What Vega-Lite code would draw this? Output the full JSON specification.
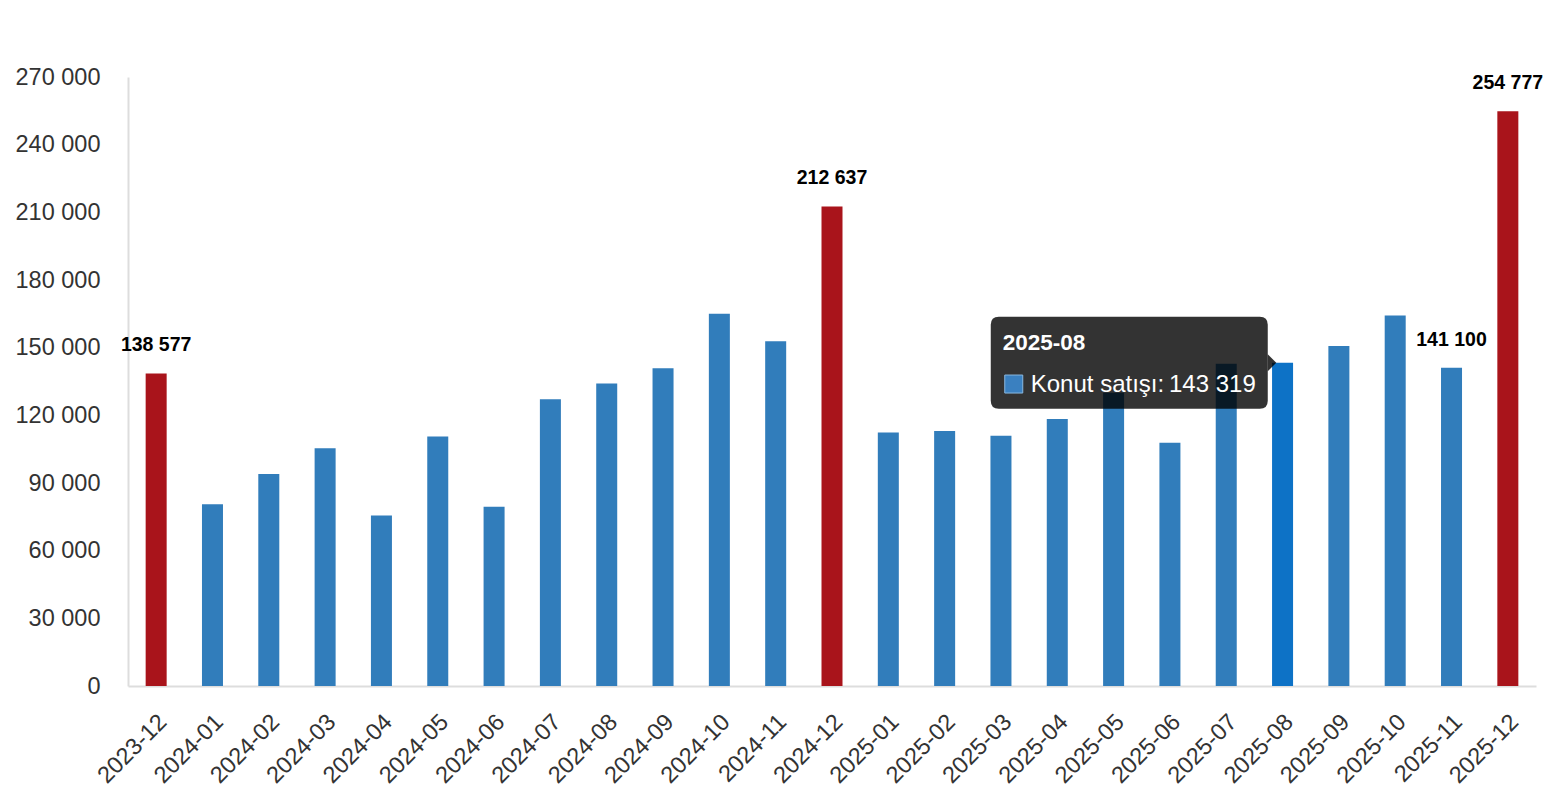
{
  "$schema": "https://vega.github.io/schema/vega-lite/v6.json",
  "width": 1408,
  "height": 609,
  "autosize": {"type": "none"},
  "padding": {"left": 128, "top": 77, "right": 20, "bottom": 114},
  "background": "white",
  "config": {
    "view": {"stroke": null},
    "font": "Liberation Sans",
    "locale": {"number": {"decimal": ",", "thousands": " ", "grouping": [3], "currency": ["", " ₺"]}}
  },
  "data": {
    "values": [
      {"month": "2023-12", "value": 138577},
      {"month": "2024-01", "value": 80585},
      {"month": "2024-02", "value": 94045},
      {"month": "2024-03", "value": 105394},
      {"month": "2024-04", "value": 75569},
      {"month": "2024-05", "value": 110588},
      {"month": "2024-06", "value": 79500},
      {"month": "2024-07", "value": 127179},
      {"month": "2024-08", "value": 134086},
      {"month": "2024-09", "value": 140828},
      {"month": "2024-10", "value": 165038},
      {"month": "2024-11", "value": 152830},
      {"month": "2024-12", "value": 212637},
      {"month": "2025-01", "value": 112379},
      {"month": "2025-02", "value": 113056},
      {"month": "2025-03", "value": 110986},
      {"month": "2025-04", "value": 118355},
      {"month": "2025-05", "value": 130025},
      {"month": "2025-06", "value": 107800},
      {"month": "2025-07", "value": 142900},
      {"month": "2025-08", "value": 143319},
      {"month": "2025-09", "value": 150700},
      {"month": "2025-10", "value": 164300},
      {"month": "2025-11", "value": 141100},
      {"month": "2025-12", "value": 254777}
    ]
  },
  "encoding": {
    "x": {
      "field": "month",
      "type": "ordinal",
      "sort": null,
      "scale": {"paddingInner": 0.627, "paddingOuter": 0.3135},
      "axis": {
        "title": null,
        "ticks": false,
        "grid": false,
        "domainColor": "#dddddd",
        "domainWidth": 2,
        "labelAngle": -45,
        "labelAlign": "right",
        "labelBaseline": "middle",
        "labelPadding": 32,
        "labelOffset": 7,
        "labelFontSize": 23.5,
        "labelColor": "#333333",
        "labelFont": "Liberation Sans"
      }
    }
  },
  "layer": [
    {
      "mark": {"type": "bar"},
      "encoding": {
        "y": {
          "field": "value",
          "type": "quantitative",
          "scale": {"domain": [0, 270000], "nice": false, "zero": true},
          "axis": {
            "title": null,
            "values": [0, 30000, 60000, 90000, 120000, 150000, 180000, 210000, 240000, 270000],
            "format": ",d",
            "ticks": false,
            "grid": false,
            "domainColor": "#dddddd",
            "domainWidth": 2,
            "labelPadding": 28,
            "labelFontSize": 23.5,
            "labelColor": "#333333",
            "labelFont": "Liberation Sans"
          }
        },
        "color": {
          "condition": [
            {"test": "datum.month === '2025-08'", "value": "#0d72c6"},
            {"test": "indexof(['2023-12','2024-12','2025-12'], datum.month) >= 0", "value": "#a9141b"}
          ],
          "value": "#317dbb"
        }
      }
    },
    {
      "transform": [{"filter": {"field": "month", "oneOf": ["2023-12", "2024-12", "2025-11", "2025-12"]}}],
      "mark": {"type": "text", "dy": -28, "fontWeight": "bold", "fontSize": 19.5, "color": "#000000", "baseline": "middle", "align": "center"},
      "encoding": {
        "y": {"field": "value", "type": "quantitative"},
        "text": {"field": "value", "type": "quantitative", "format": ",d"}
      }
    },
    {
      "transform": [{"filter": {"field": "month", "equal": "2025-08"}}],
      "layer": [
        {
          "mark": {
            "type": "point",
            "shape": "M-0.942,-0.332 L0.942,-0.332 Q1,-0.332 1,-0.274 L1,0.274 Q1,0.332 0.942,0.332 L-0.942,0.332 Q-1,0.332 -1,0.274 L-1,-0.274 Q-1,-0.332 -0.942,-0.332 Z",
            "size": 76729,
            "filled": true,
            "color": "#000000",
            "opacity": 0.8,
            "xOffset": -153.3
          },
          "encoding": {"y": {"field": "value", "type": "quantitative"}}
        },
        {
          "mark": {"type": "point", "shape": "M0,-1 L1,0 L0,1 Z", "size": 289, "filled": true, "color": "#000000", "opacity": 0.8, "xOffset": -14.8},
          "encoding": {"y": {"field": "value", "type": "quantitative"}}
        },
        {
          "mark": {"type": "point", "shape": "square", "size": 324, "filled": true, "fill": "#3a80c0", "stroke": "#8ab8e0", "strokeWidth": 1, "opacity": 1, "xOffset": -268.8, "yOffset": 21.3},
          "encoding": {"y": {"field": "value", "type": "quantitative"}}
        },
        {
          "mark": {"type": "text", "align": "left", "baseline": "alphabetic", "dx": -279.8, "dy": -12.7, "fontSize": 22.5, "fontWeight": "bold", "color": "#ffffff"},
          "encoding": {"y": {"field": "value", "type": "quantitative"}, "text": {"field": "month"}}
        },
        {
          "mark": {"type": "text", "align": "left", "baseline": "alphabetic", "dx": -251.8, "dy": 28.8, "fontSize": 24, "color": "#ffffff", "text": "Konut satışı:"},
          "encoding": {"y": {"field": "value", "type": "quantitative"}}
        },
        {
          "mark": {"type": "text", "align": "right", "baseline": "alphabetic", "dx": -26.8, "dy": 28.8, "fontSize": 24, "color": "#ffffff"},
          "encoding": {"y": {"field": "value", "type": "quantitative"}, "text": {"field": "value", "type": "quantitative", "format": ",d"}}
        }
      ]
    }
  ]
}
